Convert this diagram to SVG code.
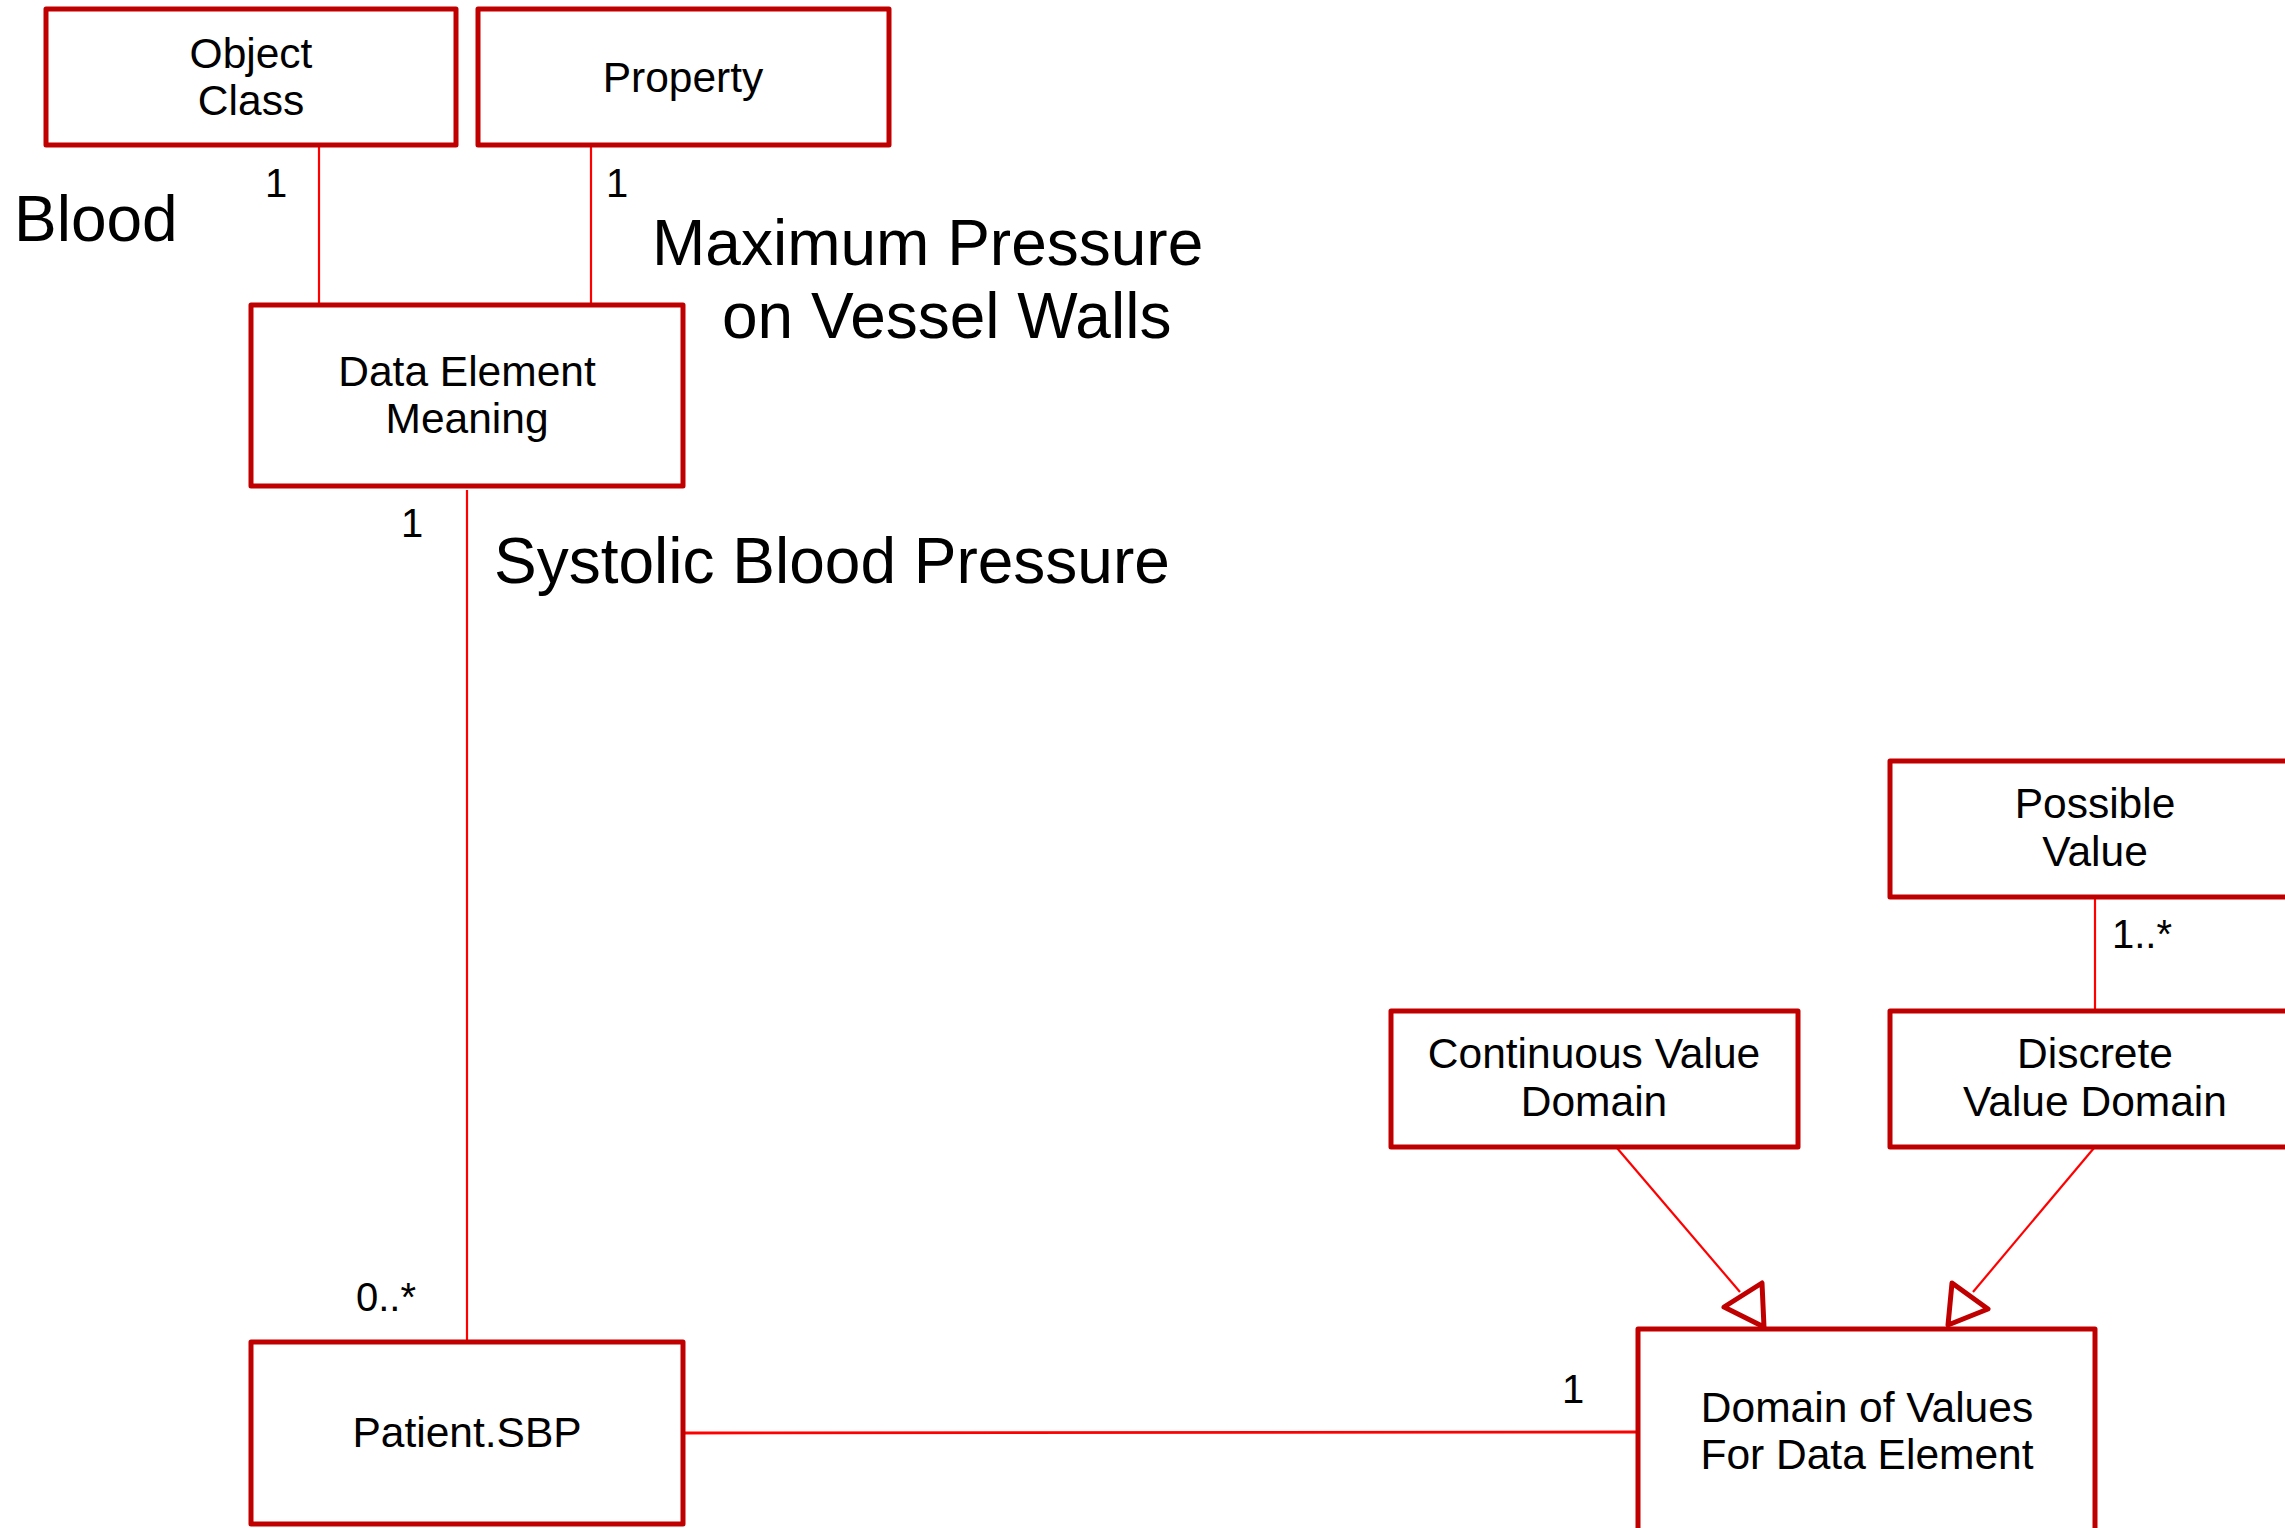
<svg xmlns="http://www.w3.org/2000/svg" width="2285" height="1528" viewBox="0 0 2285 1528">
  <style>
    .box { fill: #FFFFFF; stroke: #C00000; stroke-width: 5; stroke-linejoin: round; }
    .link { fill: none; stroke: #FF0000; stroke-width: 2.2; }
    .head { fill: #FFFFFF; stroke: #C00000; stroke-width: 5; stroke-linejoin: round; }
    .lbl { font-family: "Liberation Sans", Arial, sans-serif; font-size: 42.5px; fill: #000000; text-anchor: middle; }
    .mult { font-family: "Liberation Sans", Arial, sans-serif; font-size: 40px; fill: #000000; }
    .big { font-family: "Liberation Sans", Arial, sans-serif; font-size: 64px; fill: #000000; }
  </style>
  <rect width="2285" height="1528" fill="#FFFFFF"/>

  <!-- associations and generalisations -->
  <g id="connectors">
    <line class="link" x1="319" y1="145" x2="319" y2="304"/>
    <line class="link" x1="591" y1="145" x2="591" y2="304"/>
    <line class="link" x1="467" y1="490" x2="467" y2="1342"/>
    <line class="link" x1="683" y1="1433" x2="1638" y2="1432" style="stroke-width:2.8"/>
    <line class="link" x1="2095" y1="897" x2="2095" y2="1011"/>
    <line class="link" x1="1617" y1="1148" x2="1740" y2="1292"/>
    <line class="link" x1="2094" y1="1148" x2="1973" y2="1292"/>
    <polygon class="head" points="1724,1307 1762,1283 1764,1327"/>
    <polygon class="head" points="1952,1283 1988,1309 1948,1325"/>
  </g>

  <g id="object-class">
    <rect class="box" x="46" y="9" width="410" height="136"/>
    <text class="lbl" x="251" y="68">Object</text>
    <text class="lbl" x="251" y="115">Class</text>
  </g>

  <g id="property">
    <rect class="box" x="478" y="9" width="411" height="136"/>
    <text class="lbl" x="683" y="92">Property</text>
  </g>

  <g id="data-element-meaning">
    <rect class="box" x="251" y="305" width="432" height="181"/>
    <text class="lbl" x="467" y="386">Data Element</text>
    <text class="lbl" x="467" y="433">Meaning</text>
  </g>

  <g id="patient-sbp">
    <rect class="box" x="251" y="1342" width="432" height="182"/>
    <text class="lbl" x="467" y="1447">Patient.SBP</text>
  </g>

  <g id="possible-value">
    <rect class="box" x="1890" y="761" width="410" height="136"/>
    <text class="lbl" x="2095" y="818">Possible</text>
    <text class="lbl" x="2095" y="866">Value</text>
  </g>

  <g id="continuous-value-domain">
    <rect class="box" x="1391" y="1011" width="407" height="136"/>
    <text class="lbl" x="1594" y="1068">Continuous Value</text>
    <text class="lbl" x="1594" y="1116">Domain</text>
  </g>

  <g id="discrete-value-domain">
    <rect class="box" x="1890" y="1011" width="410" height="136"/>
    <text class="lbl" x="2095" y="1068">Discrete</text>
    <text class="lbl" x="2095" y="1116">Value Domain</text>
  </g>

  <g id="domain-of-values">
    <rect class="box" x="1638" y="1329" width="457" height="220"/>
    <text class="lbl" x="1867" y="1422">Domain of Values</text>
    <text class="lbl" x="1867" y="1469">For Data Element</text>
  </g>

  <!-- multiplicities -->
  <g id="multiplicities">
    <text class="mult" x="276" y="197" text-anchor="middle">1</text>
    <text class="mult" x="617" y="197" text-anchor="middle">1</text>
    <text class="mult" x="412" y="537" text-anchor="middle">1</text>
    <text class="mult" x="356" y="1311">0..*</text>
    <text class="mult" x="1573" y="1403" text-anchor="middle">1</text>
    <text class="mult" x="2112" y="948">1..*</text>
  </g>

  <!-- example instance names -->
  <g id="examples">
    <text class="big" x="14" y="241">Blood</text>
    <text class="big" x="652" y="265">Maximum Pressure</text>
    <text class="big" x="722" y="338">on Vessel Walls</text>
    <text class="big" x="494" y="583">Systolic Blood Pressure</text>
  </g>
</svg>
